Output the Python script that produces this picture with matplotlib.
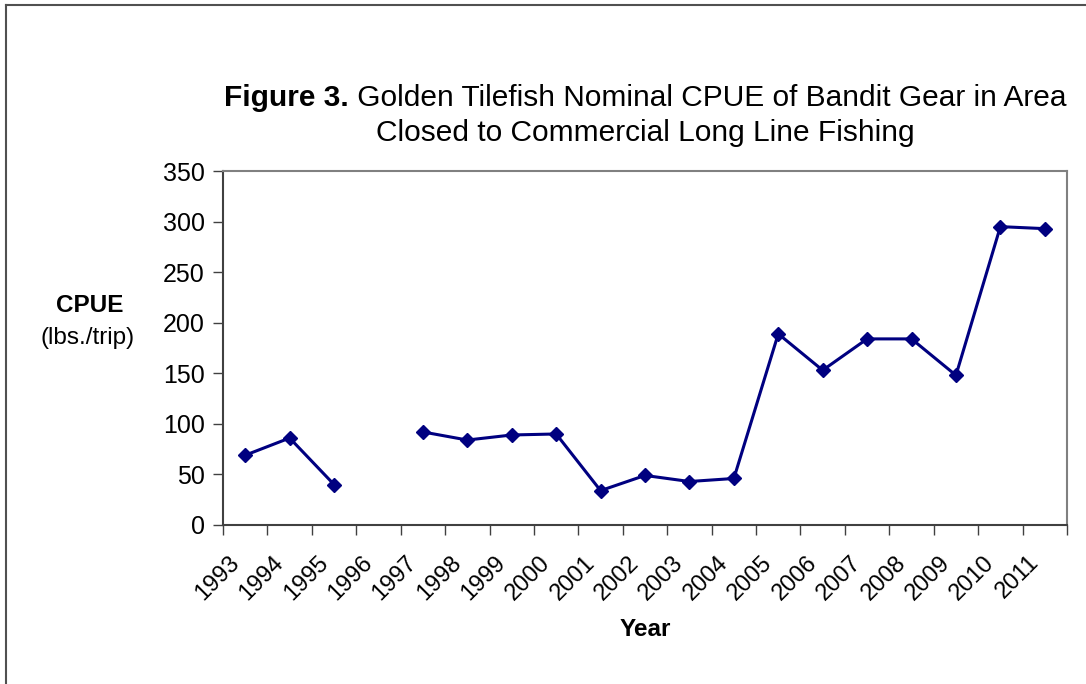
import numpy as np
import matplotlib
matplotlib.use("Agg")
import matplotlib.pyplot as plt
import matplotlib.transforms as mtransforms
from matplotlib.lines import Line2D

plt.rcParams["font.family"] = ["Liberation Sans", "DejaVu Sans"]

years = [str(y) for y in range(1993, 2012)]
cpue = [69, 86, 40, np.nan, 92, 84, 89, 90, 34, 49, 43, 46,
        189, 153, 184, 184, 148, 295, 293]

title_bold = "Figure 3."
title_rest = " Golden Tilefish Nominal CPUE of Bandit Gear in Area"
title_line2 = "Closed to Commercial Long Line Fishing"

W, H = 1086, 684
fig = plt.figure(figsize=(W / 100, H / 100), dpi=100)
ax = fig.add_axes([223 / W, 1 - 525 / H, (1067 - 223) / W, (525 - 171) / H])

x = np.arange(len(years))
ax.plot(x, cpue, color="#000080", linewidth=2.2, marker="D", markersize=7.5,
        markerfacecolor="#000080", markeredgecolor="#000080")

ax.set_xlim(-0.5, len(years) - 0.5)
ax.set_ylim(0, 350)
ax.set_yticks(range(0, 351, 50))
ax.tick_params(axis="y", labelsize=18, length=7, width=1, color="#404040", pad=6)

ax.set_xticks(np.arange(-0.5, len(years), 1.0))
ax.set_xticklabels([])
ax.tick_params(axis="x", which="major", length=7, width=1, color="#404040")
ax.set_xticks(x, minor=True)
ax.set_xticklabels(years, minor=True, rotation=45, ha="right",
                   rotation_mode="anchor", fontsize=17)
ax.tick_params(axis="x", which="minor", length=0, pad=19)
shift = mtransforms.ScaledTranslation(-17 / 100, 0, fig.dpi_scale_trans)
for lab in ax.get_xticklabels(minor=True):
    lab.set_transform(lab.get_transform() + shift)

for side in ["top", "right"]:
    ax.spines[side].set_color("#808080")
    ax.spines[side].set_linewidth(1.5)
for side in ["left", "bottom"]:
    ax.spines[side].set_color("#404040")
    ax.spines[side].set_linewidth(1.5)

# title (bold prefix + regular text), centered over the plot
cx = (223 + 1067) / 2 / W
fig.canvas.draw()
r = fig.canvas.get_renderer()
tb = fig.text(0, 0, title_bold, fontsize=21.5, fontweight="bold", va="center")
tr = fig.text(0, 0, title_rest, fontsize=21.5, va="center")
wb = tb.get_window_extent(r).width
wr = tr.get_window_extent(r).width
x0 = cx * W - (wb + wr) / 2
ty = 1 - 98 / H
tb.set_position((x0 / W, ty))
tr.set_position(((x0 + wb) / W, ty))
fig.text(cx, 1 - 133 / H, title_line2, fontsize=21.5, ha="center", va="center")

fig.text(90 / W, 1 - 305 / H, "CPUE", fontsize=17.5, fontweight="bold",
         ha="center", va="center")
fig.text(88 / W, 1 - 338 / H, "(lbs./trip)", fontsize=17.5,
         ha="center", va="center")
fig.text(cx, 1 - 630 / H, "Year", fontsize=17.5, fontweight="bold",
         ha="center", va="center")

# outer chart border (top and left visible)
fig.add_artist(Line2D([6 / W, 6 / W], [0, 1 - 5 / H], color="#505050",
                      linewidth=1.5, transform=fig.transFigure))
fig.add_artist(Line2D([6 / W, 1], [1 - 5 / H, 1 - 5 / H], color="#505050",
                      linewidth=1.5, transform=fig.transFigure))

fig.savefig("out.png", dpi=100)
